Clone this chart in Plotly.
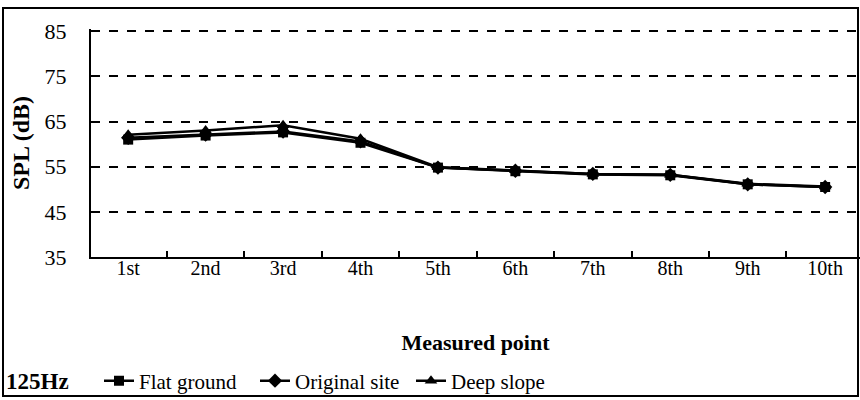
import plotly.graph_objects as go

categories = ["1st", "2nd", "3rd", "4th", "5th", "6th", "7th", "8th", "9th", "10th"]
flat_ground = [61.0, 61.9, 62.6, 60.3, 54.8, 54.0, 53.3, 53.1, 51.1, 50.5]
original_site = [61.4, 62.1, 62.8, 60.6, 54.8, 54.1, 53.4, 53.2, 51.1, 50.5]
deep_slope = [62.1, 63.0, 64.2, 61.2, 54.9, 54.2, 53.4, 53.2, 51.2, 50.6]
y_ticks = [35, 45, 55, 65, 75, 85]

FONT = "Liberation Serif, Times New Roman, serif"
W, H = 860, 400
ML, MR, MT, MB = 91, 0, 29, 143
PW, PH = W - ML - MR, H - MT - MB

def px(x):
    return (x - ML) / PW

def py(y):
    return (H - MB - y) / PH

fig = go.Figure()
series = [
    ("Flat ground", flat_ground, "square", 10),
    ("Original site", original_site, "diamond", 11),
    ("Deep slope", deep_slope, "triangle-up", 11),
]
for name, vals, sym, sz in series:
    fig.add_trace(go.Scatter(
        x=categories, y=vals, name=name, mode="lines+markers",
        line=dict(color="black", width=2.5),
        marker=dict(symbol=sym, size=sz, color="black"),
    ))

fig.update_layout(
    width=W, height=H,
    margin=dict(l=ML, r=MR, t=MT, b=MB, autoexpand=False),
    paper_bgcolor="white", plot_bgcolor="white",
    font=dict(family=FONT, size=20, color="black"),
    showlegend=True,
    legend=dict(
        orientation="h", x=px(99), y=py(381), xanchor="left", yanchor="middle",
        font=dict(family=FONT, size=21, color="black"),
        entrywidth=111, entrywidthmode="pixels",
        itemwidth=30, bgcolor="rgba(0,0,0,0)", tracegroupgap=0,
    ),
    xaxis=dict(
        type="category", range=[-0.48, 9.45],
        showline=True, linecolor="black", linewidth=2,
        ticks="inside", tickson="boundaries", ticklen=6, tickcolor="black", tickwidth=1.5,
        showgrid=False, zeroline=False,
        tickfont=dict(family=FONT, size=20),
        ticklabelstandoff=-8,
        title=dict(text="<b>Measured point</b>", font=dict(family=FONT, size=22), standoff=57),
    ),
    yaxis=dict(
        range=[35, 85.5], tickvals=y_ticks, ticktext=[str(v) for v in y_ticks],
        showline=True, linecolor="black", linewidth=2,
        ticks="", showgrid=True, gridcolor="black", gridwidth=1.5, griddash="dash",
        zeroline=False,
        tickfont=dict(family=FONT, size=22),
        ticklabelstandoff=18,
        title=dict(text="<b>SPL (dB)</b>", font=dict(family=FONT, size=24), standoff=8),
    ),
    shapes=[
        dict(type="rect", xref="paper", yref="paper",
             x0=px(3), x1=px(858), y0=py(396), y1=py(8),
             line=dict(color="black", width=2), fillcolor="rgba(0,0,0,0)", layer="below"),
    ],
    annotations=[
        dict(text="<b>125Hz</b>", xref="paper", yref="paper", x=px(4), y=py(381),
             xanchor="left", yanchor="middle", showarrow=False,
             font=dict(family=FONT, size=23, color="black")),
    ],
)

fig.write_html("out.html", config={"displayModeBar": False},
               post_script="document.body.style.margin='0px';")
